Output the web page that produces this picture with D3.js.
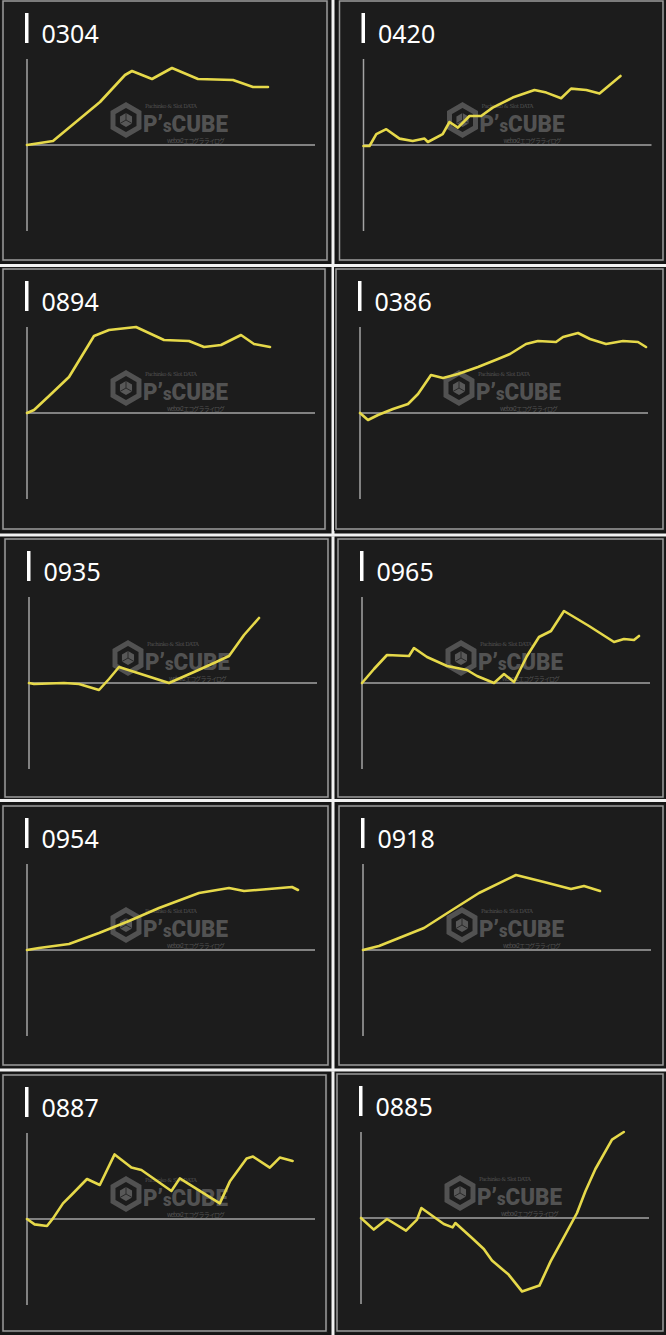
<!DOCTYPE html>
<html><head><meta charset="utf-8">
<script src="https://cdn.jsdelivr.net/npm/d3@7"></script>
<style>html,body{margin:0;padding:0;background:#151515;} svg{display:block}</style>
</head><body><svg id="c" width="666" height="1335"></svg>
<script>
// ---- data (x: games, y: coin difference) ----
const titles = ["0304","0420","0894","0386","0935","0965","0954","0918","0887","0885"];

const games0304 = [0,650,1825,2450,2625,3125,3625,4275,5150,5650,6025];
const diff0304  = [0,200,2150,3500,3700,3300,3850,3300,3250,2900,2900];

const games0420 = [0,150,320,570,900,1230,1525,1610,1980,2150,2360,2650,2940,3230,3730,4275,4570,4940,5190,5570,5900,6230,6425];
const diff0420  = [-50,-50,540,790,320,200,320,150,540,1150,870,1450,1450,1870,2370,2750,2620,2340,2820,2750,2570,3120,3450];

const games0894 = [0,175,550,1050,1675,2050,2725,3425,4050,4425,4850,5350,5675,6075];
const diff0894  = [0,150,850,1800,3850,4150,4300,3650,3600,3300,3400,3900,3450,3300];

const games0386 = [0,200,450,825,1200,1450,1775,2075,2450,2950,3450,3750,4150,4450,4900,5075,5450,5750,6150,6575,6950,7150];
const diff0386  = [0,-350,-100,200,450,950,1900,1750,1950,2300,2700,2950,3450,3600,3550,3800,4000,3700,3450,3600,3550,3300];

const games0935 = [0,125,875,1250,1500,1750,2000,2250,2875,3500,4125,4625,5000,5375,5750];
const diff0935  = [0,-50,0,-50,-200,-350,200,800,400,0,550,1000,1350,2400,3250];

const games0965 = [0,300,625,1175,1300,1625,2125,2625,2875,3300,3550,3800,4125,4425,4725,5050,5675,6300,6550,6800,6925];
const diff0965  = [0,700,1400,1350,1750,1300,850,650,350,0,450,50,1350,2300,2600,3600,2850,2050,2200,2150,2350];

const games0954 = [0,300,1050,1800,2550,3300,4300,5050,5425,6050,6625,6775];
const diff0954  = [0,100,300,850,1450,2100,2850,3100,2950,3050,3150,3000];

const games0918 = [0,400,900,1525,2150,2900,3825,4525,5200,5525,5925];
const diff0918  = [0,200,600,1100,1900,2850,3750,3400,3050,3200,2950];

const games0887 = [0,190,500,650,900,1110,1500,1820,2190,2610,2860,3610,3820,4820,5070,5490,5650,6070,6320,6640];
const diff0887  = [0,-270,-350,30,780,1200,2000,1700,3230,2570,2450,1400,2030,780,1870,3030,3120,2570,3070,2900];

const games0885 = [0,320,650,1125,1400,1510,2070,2290,2360,2775,3070,3275,3690,4025,4460,4740,5025,5400,5610,5860,6275,6570];
const diff0885  = [0,-580,-50,-630,-80,500,-300,-470,-250,-1000,-1550,-2130,-2830,-3670,-3380,-2170,-1130,250,1340,2450,3920,4300];

const gamesSeries = [games0304,games0420,games0894,games0386,games0935,games0965,games0954,games0918,games0887,games0885];
const diffSeries  = [diff0304,diff0420,diff0894,diff0386,diff0935,diff0965,diff0954,diff0918,diff0887,diff0885];

const gamesDomain = [0,7200];
const diffDomain  = [-4300,4300];

// ---- layout ----
const cells = [
  [3,1,324,259],[339.5,1,323.5,259],
  [3,269,322,260],[336,269,327,260],
  [5,539,323,258],[338,539,325,258],
  [3,806,325,259],[339,806,324,259],
  [3,1075,323,256],[337,1074,326,257]
];

const svg = d3.select("#c");

// white separators
const hSeps = [264,533.5,799,1068.5];
const vSepX = 331.5;
const rowBounds = [0,267,536.5,802,1071.5,1335];
for (let r=0;r<5;r++){
  svg.append("rect").attr("x",vSepX).attr("y",rowBounds[r]).attr("width",3)
    .attr("height",rowBounds[r+1]-rowBounds[r]).attr("fill","#f2f2f2");
}
hSeps.forEach(y=>svg.append("rect").attr("x",0).attr("y",y).attr("width",666).attr("height",3).attr("fill","#f2f2f2"));

cells.forEach((c,i)=>{
  const [L,T,W,H] = c;
  const g = svg.append("g");
  // panel background
  g.append("rect").attr("x",L-2).attr("y",T-2).attr("width",W+4).attr("height",H+4).attr("fill","#1b1b1b");
  g.append("rect").attr("x",L).attr("y",T).attr("width",W).attr("height",H)
    .attr("fill","#1c1c1c").attr("stroke","#9c9c9c").attr("stroke-width",1.5);

  // watermark
  const wm = g.append("g").attr("transform",`translate(${L},${T})`).attr("fill","#555").attr("opacity",0.95);
  const cx=123, cy=119, R=15;
  const hex = d3.range(6).map(k=>{const a=Math.PI/3*k - Math.PI/2; return [cx+R*Math.cos(a), cy+R*Math.sin(a)];});
  wm.append("path").attr("d","M"+hex.join("L")+"Z").attr("fill","none").attr("stroke","#555").attr("stroke-width",5);
  const r2=7;
  const hex2 = d3.range(6).map(k=>{const a=Math.PI/3*k - Math.PI/2; return [cx+r2*Math.cos(a), cy+r2*Math.sin(a)];});
  wm.append("path").attr("d","M"+hex2.join("L")+"Z").attr("fill","#5c5c5c");
  wm.append("path").attr("d",`M${cx},${cy}L${hex2[0]}M${cx},${cy}L${hex2[2]}M${cx},${cy}L${hex2[4]}`)
    .attr("stroke","#2a2a2a").attr("stroke-width",1);
  const t = wm.append("text").attr("x",140).attr("y",131)
    .attr("font-family","Roboto, 'DejaVu Sans', sans-serif").attr("font-weight","900").attr("font-size",24)
    .attr("textLength",85).attr("lengthAdjust","spacingAndGlyphs");
  t.append("tspan").text("P’");
  t.append("tspan").attr("font-size",18).text("s");
  t.append("tspan").text("CUBE");
  wm.append("text").attr("x",142).attr("y",106.5).attr("font-size",5.5)
    .attr("font-family","'DejaVu Serif', serif").attr("textLength",52).text("Pachinko & Slot DATA");
  wm.append("text").attr("x",164).attr("y",142).attr("font-size",6)
    .attr("font-family","'Noto Sans CJK JP', sans-serif").attr("textLength",58).text("webox2 エコグラ ライログ");

  // scales
  const x = d3.scaleLinear().domain(gamesDomain).range([L+24, L+312]);
  const y = d3.scaleLinear().domain(diffDomain).range([T+230, T+58]);

  // axes
  g.append("line").attr("x1",x(0)).attr("x2",x(0)).attr("y1",y(diffDomain[1])).attr("y2",y(diffDomain[0]))
    .attr("stroke","#a3a3a3").attr("stroke-width",1.5);
  g.append("line").attr("x1",x(0)).attr("x2",x(gamesDomain[1])).attr("y1",y(0)).attr("y2",y(0))
    .attr("stroke","#a3a3a3").attr("stroke-width",1.5);

  // line
  const pts = gamesSeries[i].map((gv,k)=>[gv, diffSeries[i][k]]);
  g.append("path").datum(pts)
    .attr("d", d3.line().x(d=>x(d[0])).y(d=>y(d[1])))
    .attr("fill","none").attr("stroke","#e6d94a").attr("stroke-width",2.6)
    .attr("stroke-linejoin","round").attr("stroke-linecap","round");

  // title
  g.append("rect").attr("x",L+22).attr("y",T+12).attr("width",3.5).attr("height",30).attr("fill","#ffffff");
  g.append("text").attr("x",L+38.5).attr("y",T+42.3)
    .attr("font-family","'Noto Sans', sans-serif").attr("font-size",25).attr("fill","#ffffff")
    .text(titles[i]);
});
</script>
</body></html>
